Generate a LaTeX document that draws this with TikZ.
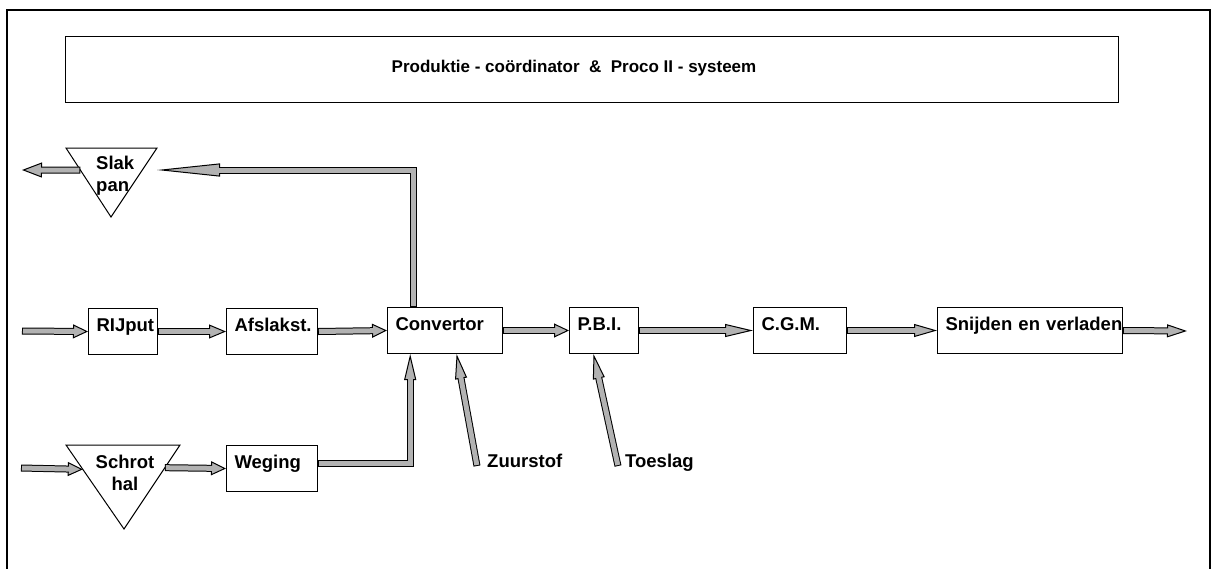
\documentclass[tikz,border=0pt]{standalone}
\usepackage{fontspec}
\setmainfont{Liberation Sans}
\usetikzlibrary{arrows.meta,calc}

\newcommand\lblfont{\fontsize{18.5}{21.5}\selectfont\bfseries\hyphenpenalty=10000 }
\newcommand\titlefont{\fontsize{17}{20}\selectfont\bfseries}
\colorlet{streamfill}{black!30}

\tikzset{
  stepbox/.style={draw, line width=1pt, anchor=north west, inner xsep=8pt,
    inner ysep=0pt, minimum height=46pt, text height=7pt, text depth=7pt,
    align=left, font=\lblfont},
  lbl/.style={font=\lblfont, inner sep=0pt},
  outline/.style={draw, line width=1pt, line join=miter},
  streamedge/.style={line width=7pt, line join=miter, black},
  streamcore/.style={line width=5pt, line join=miter, streamfill},
}

% material stream: black edge with an outlined head, grey core on top
\newcommand\stream[3]{%
  \draw[streamedge, -{Triangle[length=#1, width=#2, line width=1pt, fill=streamfill]}] #3;
  \draw[streamcore, shorten >=#1-2pt, shorten <=1pt] #3;}

\begin{document}
\begin{tikzpicture}[x=1pt, y=-1pt]
\useasboundingbox (0,0) rectangle (1212,568);

% outer frame, open at the bottom
\draw[line width=2.5pt, line join=miter] (7,600) -- (7,10) -- (1210,10) -- (1210,600);

% banner
\node[draw, line width=1pt, anchor=north west, minimum width=1053pt,
  minimum height=66pt, inner sep=0pt] (banner) at (65,36) {};
\node[font=\titlefont, inner sep=0pt] (bannertext) at (574,68)
  {Produktie - coördinator~~\&~~Proco II - systeem};

% process steps
\node[stepbox, text width=53pt]  (rij)  at (88,308)  {RIJput};
\node[stepbox, text width=75pt]  (afs)  at (226,308) {Afslakst.};
\node[stepbox, text width=99pt]  (conv) at (387,307) {Convertor};
\node[stepbox, text width=53pt]  (pbi)  at (569,307) {P.B.I.};
\node[stepbox, text width=77pt]  (cgm)  at (753,307) {C.G.M.};
\node[stepbox, text width=169pt] (snij) at (937,307) {\mbox{Snijden en verladen}};
\node[stepbox, text width=75pt]  (weg)  at (226,445) {Weging};

% slag pan and scrap hall (downward triangles)
\draw[outline] (66,148) coordinate (slakTL) -- (157,148) coordinate (slakTR)
  -- (111,217) coordinate (slakV) -- cycle;
\node[lbl, anchor=north west, align=left] (slak) at (96,156) {Slak\\pan};
\draw[outline] (66,445) coordinate (schrTL) -- (180,445) coordinate (schrTR)
  -- (124,529) coordinate (schrV) -- cycle;
\node[lbl, anchor=north, align=center] (schrot) at (125,455) {Schrot\\hal};

% additive labels
\node[lbl, anchor=base west] (zuur) at (487,467) {Zuurstof};
\node[lbl, anchor=base west] (toes) at (625,467) {Toeslag};

% connector end points
\coordinate (rijin)   at (22,331);
\coordinate (schrin)  at (21,468);
\coordinate (snijout) at (1187,331);
\coordinate (slakret) at (157,170);
\coordinate (slakout) at (22,170);
\coordinate (zuurtail) at (477,466);
\coordinate (toestail) at (618,466);
\coordinate (slakleft) at ($(slakTL)!0.32!(slakV)$);
\coordinate (schrleft) at ($(schrTL)!0.29!(schrV)$);
\coordinate (schrright) at ($(schrTR)!0.27!(schrV)$);
\coordinate (convout) at ($(conv.north west)!0.226!(conv.north east)$);
\coordinate (convin)  at ($(conv.south west)!0.2!(conv.south east)$);
\coordinate (zuurtip) at ($(conv.south west)!0.6!(conv.south east)$);
\coordinate (toestip) at ($(pbi.south west)!0.35!(pbi.south east)$);

% main line
\stream{15pt}{14pt}{(rijin) -- (rij.west)}
\stream{17pt}{14pt}{(rij.east) -- (afs.west)}
\stream{15pt}{14pt}{(afs.east) -- (conv.west)}
\stream{15pt}{14pt}{(conv.east) -- (pbi.west)}
\stream{28pt}{13pt}{(pbi.east) -- (cgm.west)}
\stream{23pt}{13pt}{(cgm.east) -- (snij.west)}
\stream{20pt}{13pt}{(snij.east) -- (snijout)}

% scrap route
\stream{15pt}{14pt}{(schrin) -- (schrleft)}
\stream{15pt}{14pt}{(schrright) -- (weg.west)}
\stream{26pt}{12pt}{([yshift=5pt]weg.east) -| (convin)}

% additions
\stream{25pt}{12pt}{(zuurtail) -- (zuurtip)}
\stream{25pt}{12pt}{(toestail) -- (toestip)}

% slag return
\stream{63pt}{13pt}{(convout) |- (slakret)}
\stream{20pt}{15pt}{(slakleft) -- (slakout)}
\end{tikzpicture}
\end{document}
